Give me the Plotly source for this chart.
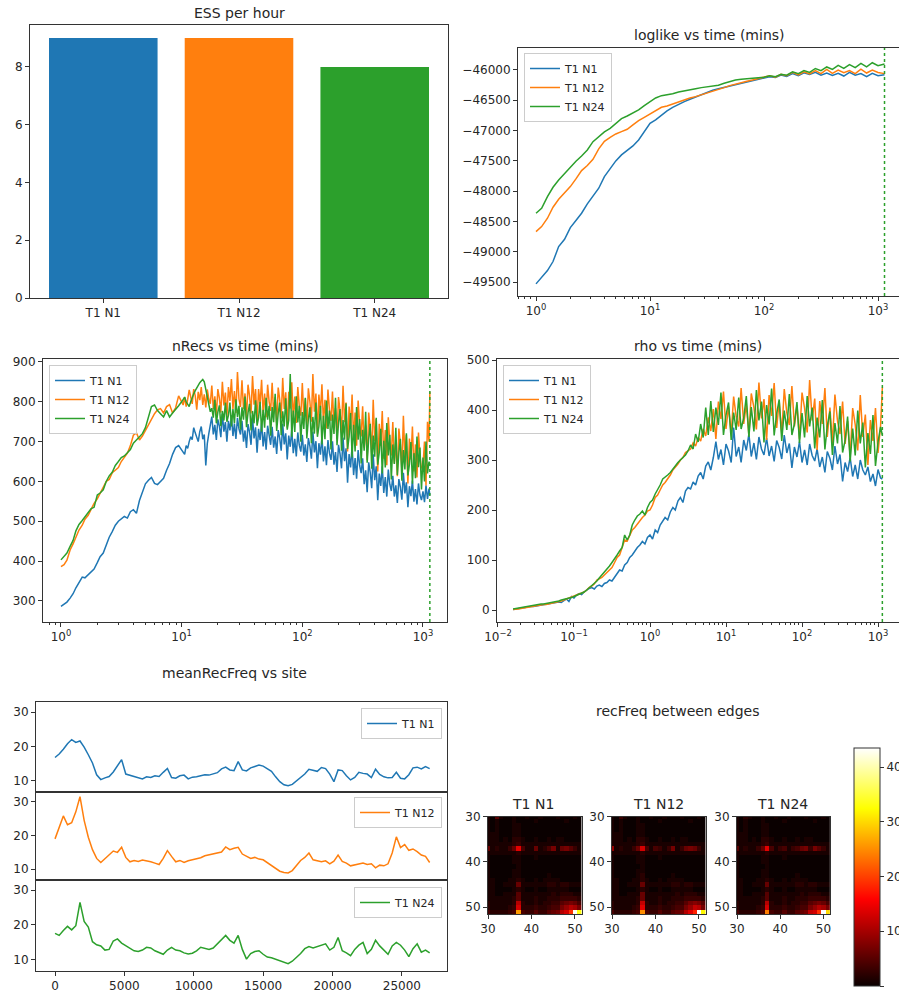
import plotly.graph_objects as go

# ---------------- data ----------------
LABELS = ["T1 N1", "T1 N12", "T1 N24"]
COLORS = ["#1f77b4", "#ff7f0e", "#2ca02c"]

ESS_PER_HOUR = [9, 9, 8]

END_TIME = 1140  # dotted marker (mins)

# loglike vs time
T_LL = [1.0, 1.12, 1.26, 1.41, 1.58, 1.78, 2.0, 2.24, 2.51, 2.82, 3.16, 3.55, 3.98, 4.47, 5.01, 5.62, 6.31, 7.08, 7.94, 8.91,
        10.0, 11.2, 12.6, 14.1, 15.8, 17.8, 20.0, 22.4, 25.1, 28.2, 31.6, 35.5, 39.8, 44.7, 50.1, 56.2, 63.1, 70.8, 79.4, 89.1,
        100, 112, 126, 141, 158, 178, 200, 224, 251, 282, 316, 355, 398, 447, 501, 562, 631, 708, 794, 891,
        1000, 1140]
LL_N1 = [-49531, -49421, -49311, -49162, -48915, -48794, -48601, -48486, -48365, -48211,
         -48079, -47952, -47760, -47622, -47501, -47402, -47325, -47254, -47155, -47017,
         -46880, -46825, -46742, -46676, -46616, -46566, -46522, -46484, -46445, -46412,
         -46374, -46335, -46308, -46286, -46253, -46231, -46220, -46192, -46176, -46154,
         -46132, -46110, -46125, -46085, -46105, -46060, -46095, -46045, -46075, -46040,
         -46085, -46050, -46090, -46055, -46100, -46040, -46085, -46060, -46110, -46055,
         -46095, -46080]
LL_N12 = [-48668, -48585, -48447, -48266, -48134, -48035, -47925, -47798, -47661, -47578,
          -47474, -47303, -47177, -47111, -47056, -47017, -46979, -46907, -46836, -46781,
          -46726, -46671, -46616, -46594, -46561, -46528, -46495, -46462, -46440, -46412,
          -46385, -46346, -46319, -46291, -46258, -46231, -46214, -46187, -46165, -46143,
          -46126, -46095, -46120, -46070, -46095, -46040, -46080, -46030, -46065, -46010,
          -46060, -45990, -46055, -46000, -46045, -46010, -46060, -45985, -46050, -46000,
          -46040, -46060]
LL_N24 = [-48365, -48283, -48090, -47936, -47815, -47705, -47595, -47507, -47419, -47320,
          -47183, -47100, -47023, -46963, -46891, -46803, -46759, -46704, -46660, -46589,
          -46523, -46462, -46424, -46413, -46391, -46363, -46341, -46319, -46308, -46291,
          -46281, -46264, -46253, -46220, -46187, -46165, -46154, -46148, -46143, -46132,
          -46121, -46095, -46110, -46070, -46085, -46030, -46060, -46010, -46040, -45975,
          -46010, -45950, -45990, -45925, -45975, -45910, -45960, -45890, -45950, -45880,
          -45930, -45900]

# nRecs vs time
T_NR = [1.0, 1.06, 1.12, 1.19, 1.26, 1.33, 1.41, 1.5, 1.58, 1.68, 1.78, 1.88, 2.0, 2.11, 2.24, 2.37, 2.51, 2.66, 2.82, 2.99,
        3.16, 3.35, 3.55, 3.76, 3.98, 4.22, 4.47, 4.73, 5.01, 5.31, 5.62, 5.96, 6.31, 6.68, 7.08, 7.5, 7.94, 8.41, 8.91, 9.44,
        10.0, 10.29, 10.59, 10.9, 11.22, 11.55, 11.89, 12.23, 12.59, 12.96,
        13.34, 13.72, 14.13, 14.54, 14.96, 15.4, 15.85, 16.31, 16.79, 17.28,
        17.78, 18.3, 18.84, 19.39, 19.95, 20.54, 21.13, 21.75, 22.39, 23.04,
        23.71, 24.41, 25.12, 25.85, 26.61, 27.38, 28.18, 29.01, 29.85, 30.73,
        31.62, 32.55, 33.5, 34.47, 35.48, 36.52, 37.58, 38.68, 39.81, 40.97,
        42.17, 43.4, 44.67, 45.97, 47.32, 48.7, 50.12, 51.58, 53.09, 54.64,
        56.23, 57.88, 59.57, 61.31, 63.1, 64.94, 66.83, 68.79, 70.79, 72.86,
        74.99, 77.18, 79.43, 81.75, 84.14, 86.6, 89.13, 91.73, 94.41, 97.16,
        100, 102.9, 105.9, 109, 112.2, 115.5, 118.9, 122.3, 125.9, 129.6,
        133.4, 137.2, 141.3, 145.4, 149.6, 154, 158.5, 163.1, 167.9, 172.8,
        177.8, 183, 188.4, 193.9, 199.5, 205.4, 211.3, 217.5, 223.9, 230.4,
        237.1, 244.1, 251.2, 258.5, 266.1, 273.8, 281.8, 290.1, 298.5, 307.3,
        316.2, 325.5, 335, 344.7, 354.8, 365.2, 375.8, 386.8, 398.1, 409.7,
        421.7, 434, 446.7, 459.7, 473.2, 487, 501.2, 515.8, 530.9, 546.4,
        562.3, 578.8, 595.7, 613.1, 631, 649.4, 668.3, 687.9, 707.9, 728.6,
        749.9, 771.8, 794.3, 817.5, 841.4, 866, 891.3, 917.3, 944.1, 971.6,
        1000, 1029, 1059, 1090, 1122, 1140]
NR_N1 = [286, 292, 297, 307, 318, 333, 348, 360, 358, 366,
         372, 380, 396, 411, 420, 442, 460, 474, 490, 500,
         507, 512, 508, 524, 529, 520, 552, 575, 594, 603,
         610, 595, 592, 600, 608, 628, 645, 668, 685, 690,
         680, 672, 668, 690, 683, 700, 712, 705, 735, 722,
         712, 700, 725, 738, 706, 718, 640, 695, 720, 742,
         763, 718, 742, 704, 756, 739, 711, 770, 725, 749,
         700, 752, 728, 766, 714, 745, 707, 760, 732, 718,
         752, 700, 728, 684, 744, 724, 692, 760, 708, 736,
         672, 732, 704, 748, 688, 724, 680, 740, 708, 692,
         737, 685, 713, 669, 729, 709, 677, 745, 693, 721,
         655, 715, 687, 731, 671, 707, 663, 723, 691, 675,
         717, 665, 693, 649, 709, 689, 657, 725, 673, 701,
         633, 696, 667, 713, 650, 688, 641, 704, 671, 654,
         701, 642, 674, 624, 692, 669, 633, 710, 651, 683,
         597, 669, 635, 688, 616, 659, 607, 679, 640, 621,
         658, 593, 628, 573, 648, 623, 583, 668, 603, 638,
         553, 620, 589, 638, 571, 611, 562, 630, 593, 576,
         614, 562, 590, 546, 606, 586, 554, 622, 570, 598,
         535, 588, 563, 602, 549, 581, 542, 595, 566, 553,
         575, 548, 590, 556, 582, 565]
NR_N12 = [386, 391, 402, 428, 443, 462, 478, 490, 505, 515,
          530, 545, 556, 571, 587, 600, 605, 622, 628, 635,
          650, 662, 671, 690, 716, 722, 704, 714, 728, 745,
          757, 770, 780, 783, 772, 788, 793, 772, 785, 815,
          800, 792, 812, 788, 806, 830, 812, 795, 832, 815,
          780, 825, 804, 837, 792, 819, 786, 831, 807, 795,
          841, 782, 814, 765, 832, 809, 773, 850, 791, 823,
          762, 837, 802, 857, 782, 827, 772, 875, 807, 787,
          854, 782, 821, 760, 843, 815, 771, 865, 793, 832,
          750, 832, 794, 855, 772, 821, 761, 843, 800, 777,
          848, 770, 812, 746, 836, 806, 758, 860, 782, 824,
          735, 825, 783, 849, 759, 813, 747, 837, 789, 765,
          847, 762, 808, 737, 834, 801, 750, 870, 775, 821,
          720, 818, 772, 844, 746, 805, 733, 831, 779, 752,
          826, 735, 784, 707, 812, 777, 721, 840, 749, 798,
          675, 788, 735, 818, 705, 773, 690, 803, 743, 713,
          789, 685, 741, 653, 773, 733, 669, 805, 701, 757,
          625, 745, 689, 777, 657, 729, 641, 761, 697, 665,
          749, 645, 701, 613, 733, 693, 629, 765, 661, 717,
          595, 708, 655, 738, 625, 693, 610, 723, 663, 633,
          640, 700, 590, 750, 700, 825]
NR_N24 = [403, 412, 420, 437, 452, 476, 492, 502, 512, 524,
          532, 535, 566, 571, 579, 600, 614, 623, 640, 650,
          660, 664, 671, 680, 696, 704, 712, 720, 735, 765,
          788, 792, 778, 770, 762, 778, 762, 772, 780, 790,
          800, 806, 812, 800, 792, 788, 800, 812, 820, 828,
          835, 840, 848, 852, 856, 850, 830, 815, 795, 775,
          784, 760, 805, 746, 774, 791, 739, 777, 753, 798,
          750, 766, 798, 738, 782, 746, 806, 762, 790, 730,
          786, 755, 813, 736, 772, 795, 728, 777, 746, 804,
          740, 760, 800, 725, 780, 735, 810, 755, 790, 715,
          787, 749, 820, 727, 771, 798, 716, 776, 738, 809,
          730, 754, 870, 712, 778, 724, 814, 748, 790, 700,
          774, 732, 810, 708, 756, 786, 696, 762, 720, 798,
          712, 738, 790, 693, 765, 706, 803, 732, 778, 680,
          768, 719, 810, 691, 747, 782, 677, 754, 705, 796,
          682, 712, 772, 660, 742, 675, 787, 705, 757, 645,
          730, 677, 775, 647, 707, 745, 632, 715, 662, 760,
          642, 672, 732, 620, 702, 635, 747, 665, 717, 605,
          693, 644, 735, 616, 672, 707, 602, 679, 630, 721,
          615, 643, 699, 594, 671, 608, 713, 636, 685, 580,
          660, 600, 700, 620, 650, 640]

# rho vs time
T_RHO = [0.0158, 0.0171, 0.0185, 0.02, 0.0215, 0.0233, 0.0251, 0.0271, 0.0293, 0.0316, 0.0342, 0.0369,
         0.0398, 0.043, 0.0464, 0.0501, 0.0541, 0.0584, 0.0631, 0.0681, 0.0736, 0.0794, 0.0858, 0.0926,
         0.1, 0.108, 0.117, 0.126, 0.136, 0.147, 0.158, 0.171, 0.185, 0.2, 0.215, 0.233, 0.251, 0.271, 0.293,
         0.316, 0.342, 0.369, 0.398, 0.43, 0.464, 0.501, 0.541, 0.584, 0.631, 0.681, 0.736, 0.794, 0.858, 0.926,
         1.0, 1.08, 1.17, 1.26, 1.36, 1.47, 1.58, 1.71, 1.85, 2.0, 2.15, 2.33, 2.51, 2.71, 2.93,
         3.16, 3.42, 3.69, 3.98, 4.3, 4.64, 5.01, 5.41, 5.84, 6.31, 6.81, 7.36, 7.94, 8.58, 9.26,
         10, 10.8, 11.7, 12.6, 13.6, 14.7, 15.8, 17.1, 18.5, 20, 21.5, 23.3, 25.1, 27.1, 29.3,
         31.6, 34.2, 36.9, 39.8, 43, 46.4, 50.1, 54.1, 58.4, 63.1, 68.1, 73.6, 79.4, 85.8, 92.6,
         100, 108, 117, 126, 136, 147, 158, 171, 185, 200, 215, 233, 251, 271, 293,
         316, 342, 369, 398, 430, 464, 501, 541, 584, 631, 681, 736, 794, 858, 926,
         1000, 1080, 1140]
RHO_N1 = [1, 2, 3, 4, 4, 5, 6, 7, 7, 8,
          9, 10, 11, 12, 13, 13, 14, 15, 16, 15,
          18, 22, 17, 27, 24, 30, 33, 31, 36, 40,
          43, 45, 42, 48, 50, 47, 53, 55, 60, 58,
          65, 72, 80, 78, 90, 95, 105, 110, 118, 125,
          130, 137, 132, 145, 150, 142, 160, 155, 170, 178,
          185, 180, 196, 205, 200, 218, 225, 215, 238, 245,
          242, 256, 250, 268, 275, 262, 288, 296, 280, 305,
          337, 301, 321, 290, 332, 318, 295, 365, 307, 326,
          295, 340, 319, 352, 307, 334, 301, 346, 322, 310,
          344, 308, 328, 297, 339, 325, 302, 350, 314, 333,
          284, 326, 306, 337, 295, 320, 290, 332, 309, 298,
          322, 286, 306, 275, 317, 303, 280, 328, 292, 311,
          257, 295, 277, 305, 267, 290, 262, 300, 280, 270,
          286, 257, 272, 248, 281, 264, 262]
RHO_N12 = [1, 1, 2, 3, 4, 5, 5, 6, 7, 8,
           9, 10, 11, 11, 12, 13, 14, 16, 17, 18,
           20, 22, 24, 26, 28, 30, 32, 34, 36, 40,
           45, 48, 52, 60, 62, 65, 70, 75, 80, 85,
           95, 105, 110, 125, 140, 138, 148, 160, 165, 172,
           180, 185, 190, 198, 200, 210, 225, 230, 240, 250,
           255, 262, 270, 280, 285, 292, 300, 305, 315, 318,
           322, 334, 328, 345, 338, 362, 348, 385, 358, 402,
           342, 417, 382, 437, 362, 407, 352, 427, 387, 367,
           444, 372, 411, 350, 433, 405, 361, 455, 383, 422,
           340, 430, 388, 454, 364, 418, 352, 442, 394, 370,
           448, 367, 410, 342, 435, 404, 355, 460, 379, 423,
           320, 418, 372, 444, 346, 405, 333, 431, 378, 352,
           417, 332, 378, 306, 404, 371, 319, 430, 346, 391,
           290, 380, 338, 404, 314, 368, 445]
RHO_N24 = [2, 3, 4, 5, 6, 7, 8, 9, 10, 10,
           11, 12, 12, 13, 13, 14, 15, 17, 18, 20,
           21, 22, 24, 25, 27, 29, 31, 33, 36, 40,
           44, 48, 53, 58, 64, 70, 75, 82, 88, 95,
           102, 110, 118, 125, 150, 140, 150, 170, 180, 188,
           192, 198, 190, 205, 215, 220, 232, 240, 250, 262,
           265, 270, 275, 282, 290, 295, 300, 305, 310, 318,
           330, 322, 352, 336, 372, 345, 405, 350, 418, 356,
           405, 370, 435, 350, 390, 415, 340, 395, 360, 425,
           362, 384, 428, 346, 406, 357, 440, 379, 417, 335,
           410, 371, 443, 349, 393, 421, 338, 399, 360, 432,
           350, 372, 416, 334, 394, 345, 428, 367, 405, 323,
           385, 345, 420, 321, 368, 397, 310, 374, 333, 408,
           315, 339, 387, 297, 363, 309, 399, 333, 375, 285,
           354, 312, 390, 288, 336, 366, 350]

# meanRecFreq vs site
SITES = [0, 300, 600, 900, 1200, 1500, 1800, 2100, 2400, 2700,
         3000, 3300, 3600, 3900, 4200, 4500, 4800, 5100, 5400, 5700,
         6000, 6300, 6600, 6900, 7200, 7500, 7800, 8100, 8400, 8700,
         9000, 9300, 9600, 9900, 10200, 10500, 10800, 11100, 11400, 11700,
         12000, 12300, 12600, 12900, 13200, 13500, 13800, 14100, 14400, 14700,
         15000, 15300, 15600, 15900, 16200, 16500, 16800, 17100, 17400, 17700,
         18000, 18300, 18600, 18900, 19200, 19500, 19800, 20100, 20400, 20700,
         21000, 21300, 21600, 21900, 22200, 22500, 22800, 23100, 23400, 23700,
         24000, 24300, 24600, 24900, 25200, 25500, 25800, 26100, 26400, 26700,
         27000]
MRF_N1 = [16.8, 17.8, 19.2, 20.8, 22.0, 21.2, 21.6, 19.8, 17.6, 15.2,
          11.8, 10.4, 10.9, 11.3, 12.6, 14.6, 16.2, 12.0, 11.6, 11.2,
          10.9, 10.6, 11.2, 11.0, 11.5, 11.3, 12.5, 13.6, 11.0, 10.8,
          11.5, 11.7, 10.6, 11.1, 11.2, 11.6, 11.8, 11.7, 12.0, 12.4,
          13.5, 14.0, 13.2, 13.0, 15.6, 13.2, 12.9, 13.8, 14.2, 14.6,
          14.3, 13.5, 12.8, 11.2, 9.8, 8.9, 8.6, 9.0, 10.0, 10.8,
          12.0, 13.4, 13.0, 12.8, 13.9, 13.6, 12.0, 9.8, 13.2, 13.0,
          11.5, 10.3, 11.0, 12.5, 12.2, 12.0, 11.0, 13.4, 11.9, 11.2,
          10.9, 11.0, 12.5, 10.8, 10.6, 11.8, 13.8, 14.0, 13.5, 14.2,
          13.6]
MRF_N12 = [19.0, 22.5, 25.8, 23.2, 23.8, 27.0, 31.5, 24.5, 19.5, 15.8,
           13.2, 12.0, 13.2, 14.3, 15.4, 15.0, 16.5, 13.5, 12.2, 12.6,
           12.3, 12.7, 12.5, 12.2, 11.8, 11.4, 13.2, 15.5, 13.8, 12.2,
           12.6, 12.0, 12.5, 12.8, 13.0, 13.4, 14.0, 14.3, 14.6, 15.0,
           15.1, 16.6, 15.8, 16.2, 16.5, 14.5, 13.8, 13.2, 13.5, 13.0,
           12.8, 12.0, 11.0, 10.2, 9.4, 9.0, 8.9, 9.6, 11.2, 12.6,
           13.5, 14.8, 12.8, 12.5, 12.2, 12.5, 11.6, 12.4, 14.2, 12.3,
           11.8, 11.0, 11.2, 11.6, 11.8, 11.4, 11.6, 10.4, 11.2, 11.0,
           11.6, 14.8, 19.6, 16.4, 17.3, 15.6, 16.0, 15.2, 14.2, 13.8,
           12.0]
MRF_N24 = [17.6, 17.0, 18.4, 19.6, 18.6, 19.8, 26.5, 21.0, 19.4, 15.2,
           14.3, 14.0, 12.8, 13.0, 15.4, 16.0, 14.8, 14.0, 13.2, 12.6,
           12.4, 12.8, 13.6, 13.4, 12.6, 12.2, 11.6, 12.8, 13.6, 12.8,
           12.6, 12.0, 11.7, 11.9, 12.6, 13.6, 13.4, 13.0, 13.4, 14.6,
           15.6, 17.0, 15.6, 14.8, 17.0, 13.0, 10.2, 11.8, 12.4, 12.6,
           11.6, 10.8, 10.6, 10.2, 9.6, 9.2, 8.9, 9.6, 10.6, 11.8,
           13.2, 13.8, 13.4, 13.8, 14.2, 14.6, 12.8, 13.6, 16.4, 12.6,
           12.0, 11.2, 13.0, 14.2, 15.0, 11.8, 13.0, 15.6, 14.0, 12.8,
           11.6, 14.0, 15.0, 14.2, 12.8, 10.9, 13.2, 14.6, 12.2, 12.8,
           12.0]

# recFreq between edges (edge index 30..51)
EDGES = [30, 31, 32, 33, 34, 35, 36, 37, 38, 39, 40, 41, 42, 43, 44, 45, 46, 47, 48, 49, 50, 51]
RF_N1 = [
    [1, 0, 5, 1, 0, 0, 1, 0, 0, 1, 0, 0, 1, 0, 0, 0, 1, 0, 0, 0, 1, 0],
    [1, 0, 1, 0, 0, 0, 1, 0, 0, 0, 0, 1, 0, 0, 0, 0, 0, 0, 1, 0, 0, 0],
    [1, 0, 1, 0, 0, 0, 1, 1, 0, 0, 0, 0, 0, 0, 0, 0, 0, 0, 0, 0, 0, 0],
    [1, 0, 1, 0, 0, 0, 1, 1, 0, 0, 0, 0, 0, 0, 0, 0, 0, 0, 0, 0, 0, 0],
    [1, 1, 1, 0, 0, 0, 1, 1, 0, 0, 0, 0, 0, 0, 0, 0, 0, 0, 0, 0, 0, 0],
    [1, 1, 1, 0, 1, 0, 2, 2, 1, 0, 0, 1, 0, 0, 1, 0, 1, 1, 0, 0, 0, 0],
    [1, 1, 1, 1, 1, 1, 2, 3, 1, 1, 1, 1, 1, 1, 1, 1, 1, 1, 1, 1, 1, 1],
    [6, 1, 2, 1, 1, 3, 6, 14, 4, 1, 1, 6, 1, 2, 4, 7, 1, 6, 7, 5, 3, 1],
    [1, 1, 1, 1, 1, 1, 1, 2, 1, 1, 1, 1, 1, 1, 1, 1, 1, 1, 1, 1, 1, 1],
    [1, 0, 0, 0, 0, 0, 1, 1, 0, 0, 0, 1, 0, 0, 0, 0, 0, 0, 0, 0, 0, 0],
    [1, 0, 0, 0, 0, 0, 1, 1, 0, 0, 0, 0, 0, 0, 0, 0, 0, 0, 0, 0, 0, 0],
    [1, 0, 0, 0, 0, 0, 0, 1, 0, 0, 0, 0, 0, 0, 0, 0, 0, 0, 0, 0, 0, 0],
    [1, 0, 0, 0, 0, 0, 1, 1, 0, 0, 0, 0, 0, 0, 0, 0, 0, 0, 0, 0, 0, 0],
    [1, 0, 0, 0, 0, 0, 1, 1, 0, 0, 0, 0, 0, 0, 1, 0, 0, 0, 0, 0, 0, 0],
    [1, 1, 0, 0, 0, 1, 1, 2, 1, 0, 0, 1, 0, 1, 1, 1, 1, 0, 0, 0, 0, 0],
    [1, 1, 0, 0, 1, 1, 1, 6, 1, 1, 1, 1, 1, 1, 2, 2, 1, 2, 2, 1, 1, 1],
    [1, 1, 0, 0, 0, 0, 1, 2, 1, 0, 0, 1, 0, 0, 1, 1, 1, 1, 1, 0, 0, 0],
    [1, 1, 0, 0, 1, 1, 1, 5, 1, 1, 1, 1, 1, 1, 1, 2, 1, 2, 2, 2, 1, 1],
    [1, 1, 1, 1, 1, 1, 2, 5, 1, 1, 1, 2, 1, 1, 2, 2, 2, 3, 3, 3, 3, 2],
    [2, 1, 1, 1, 1, 1, 2, 11, 2, 1, 1, 2, 1, 2, 2, 3, 3, 5, 6, 7, 6, 4],
    [2, 1, 1, 1, 1, 2, 3, 13, 2, 2, 2, 3, 2, 2, 3, 4, 4, 7, 9, 11, 10, 7],
    [4, 2, 2, 2, 2, 3, 4, 26, 4, 3, 3, 5, 3, 3, 5, 6, 7, 11, 13, 19, 43, 33],
]
RF_N12 = [
    [1, 0, 3, 1, 0, 0, 1, 0, 0, 1, 0, 0, 1, 0, 0, 0, 1, 0, 0, 0, 1, 0],
    [1, 0, 1, 0, 0, 0, 1, 0, 0, 0, 0, 1, 0, 0, 0, 0, 0, 0, 1, 0, 0, 0],
    [1, 0, 1, 0, 0, 0, 1, 1, 0, 0, 0, 0, 0, 0, 0, 0, 0, 0, 0, 0, 0, 0],
    [1, 0, 1, 0, 0, 0, 1, 1, 0, 0, 0, 0, 0, 0, 0, 0, 0, 0, 0, 0, 0, 0],
    [1, 1, 1, 0, 0, 0, 1, 1, 0, 0, 0, 0, 0, 0, 0, 0, 0, 0, 0, 0, 0, 0],
    [1, 1, 1, 0, 1, 0, 2, 2, 1, 0, 0, 1, 0, 0, 1, 0, 1, 1, 0, 0, 0, 0],
    [1, 1, 1, 1, 1, 1, 2, 3, 1, 1, 1, 1, 1, 1, 1, 1, 1, 1, 1, 1, 1, 1],
    [9, 1, 2, 1, 1, 3, 6, 13, 4, 1, 4, 3, 1, 3, 7, 1, 3, 6, 7, 6, 3, 1],
    [1, 1, 1, 1, 1, 1, 1, 2, 1, 1, 1, 1, 1, 1, 1, 1, 1, 1, 1, 1, 1, 1],
    [1, 0, 0, 0, 0, 0, 1, 1, 0, 0, 0, 1, 0, 0, 0, 0, 0, 0, 0, 0, 0, 0],
    [1, 0, 0, 0, 0, 0, 1, 1, 0, 0, 0, 0, 0, 0, 0, 0, 0, 0, 0, 0, 0, 0],
    [1, 0, 0, 0, 0, 0, 0, 1, 0, 0, 0, 0, 0, 0, 0, 0, 0, 0, 0, 0, 0, 0],
    [1, 0, 0, 0, 0, 0, 1, 1, 0, 0, 0, 0, 0, 0, 0, 0, 0, 0, 0, 0, 0, 0],
    [1, 0, 0, 0, 0, 0, 1, 2, 0, 0, 0, 0, 0, 0, 1, 0, 0, 0, 0, 0, 0, 0],
    [1, 1, 0, 0, 0, 1, 1, 2, 1, 0, 0, 1, 0, 1, 1, 1, 1, 0, 0, 0, 0, 0],
    [1, 1, 0, 0, 1, 1, 1, 6, 1, 1, 1, 1, 1, 1, 2, 2, 1, 2, 2, 1, 1, 1],
    [1, 1, 0, 0, 0, 0, 1, 2, 1, 0, 0, 1, 0, 0, 1, 1, 1, 1, 1, 0, 0, 0],
    [1, 1, 0, 0, 1, 1, 1, 6, 1, 1, 1, 1, 1, 1, 1, 2, 1, 2, 2, 2, 1, 1],
    [1, 1, 1, 1, 1, 1, 2, 6, 1, 1, 1, 2, 1, 1, 2, 2, 2, 3, 3, 3, 3, 2],
    [2, 1, 1, 1, 1, 1, 2, 12, 2, 1, 1, 2, 1, 2, 2, 3, 3, 5, 7, 8, 7, 5],
    [2, 1, 1, 1, 1, 2, 3, 14, 2, 2, 2, 3, 2, 2, 3, 4, 4, 7, 9, 12, 11, 7],
    [4, 2, 2, 2, 2, 3, 4, 25, 4, 3, 3, 5, 3, 3, 5, 6, 7, 11, 14, 18, 45, 32],
]
RF_N24 = [
    [1, 0, 2, 1, 0, 0, 1, 0, 0, 1, 0, 0, 1, 0, 0, 0, 1, 0, 0, 0, 1, 0],
    [1, 0, 1, 0, 0, 0, 1, 0, 0, 0, 0, 1, 0, 0, 0, 0, 0, 0, 1, 0, 0, 0],
    [1, 0, 1, 0, 0, 0, 1, 1, 0, 0, 0, 0, 0, 0, 0, 0, 0, 0, 0, 0, 0, 0],
    [1, 0, 1, 0, 0, 0, 1, 1, 0, 0, 0, 0, 0, 0, 0, 0, 0, 0, 0, 0, 0, 0],
    [1, 1, 1, 0, 0, 0, 1, 1, 0, 0, 0, 0, 0, 0, 0, 0, 0, 0, 0, 0, 0, 0],
    [1, 1, 1, 0, 1, 0, 2, 2, 1, 0, 0, 1, 0, 0, 1, 0, 1, 1, 0, 0, 0, 0],
    [1, 1, 1, 1, 1, 1, 2, 3, 1, 1, 1, 1, 1, 1, 1, 1, 1, 1, 1, 1, 1, 1],
    [5, 1, 2, 1, 1, 3, 6, 14, 4, 1, 3, 4, 1, 3, 4, 6, 7, 3, 7, 5, 3, 1],
    [1, 1, 1, 1, 1, 1, 1, 2, 1, 1, 1, 1, 1, 1, 1, 1, 1, 1, 1, 1, 1, 1],
    [1, 0, 0, 0, 0, 0, 1, 1, 0, 0, 0, 1, 0, 0, 0, 0, 0, 0, 0, 0, 0, 0],
    [1, 0, 0, 0, 0, 0, 1, 1, 0, 0, 0, 0, 0, 0, 0, 0, 0, 0, 0, 0, 0, 0],
    [1, 0, 0, 0, 0, 0, 0, 1, 0, 0, 0, 0, 0, 0, 0, 0, 0, 0, 0, 0, 0, 0],
    [1, 0, 0, 0, 0, 0, 1, 1, 0, 0, 0, 0, 0, 0, 0, 0, 0, 0, 0, 0, 0, 0],
    [1, 0, 0, 0, 0, 0, 1, 1, 0, 0, 0, 0, 0, 0, 1, 0, 0, 0, 0, 0, 0, 0],
    [1, 1, 0, 0, 0, 1, 1, 2, 1, 0, 0, 1, 0, 1, 1, 1, 1, 0, 0, 0, 0, 0],
    [1, 1, 0, 0, 1, 1, 1, 6, 1, 1, 1, 1, 1, 1, 2, 2, 1, 2, 2, 1, 1, 1],
    [1, 1, 0, 0, 0, 0, 1, 2, 1, 0, 0, 1, 0, 0, 1, 1, 1, 1, 1, 0, 0, 0],
    [1, 1, 0, 0, 1, 1, 1, 5, 1, 1, 1, 1, 1, 1, 1, 2, 1, 2, 2, 2, 1, 1],
    [1, 1, 1, 1, 1, 1, 2, 5, 1, 1, 1, 2, 1, 1, 2, 2, 2, 3, 3, 3, 3, 2],
    [2, 1, 1, 1, 1, 1, 2, 11, 2, 1, 1, 2, 1, 2, 2, 3, 3, 5, 6, 7, 6, 4],
    [2, 1, 1, 1, 1, 2, 3, 13, 2, 2, 2, 3, 2, 2, 3, 4, 4, 7, 9, 11, 10, 7],
    [4, 2, 2, 2, 2, 3, 4, 24, 4, 3, 3, 5, 3, 3, 5, 6, 7, 12, 13, 19, 44, 30],
]
RF_MAX = 43.5

assert len(T_LL) == len(LL_N1) == len(LL_N12) == len(LL_N24)
assert len(T_NR) == len(NR_N1) == len(NR_N12) == len(NR_N24), (len(T_NR), len(NR_N1), len(NR_N12), len(NR_N24))
assert len(T_RHO) == len(RHO_N1) == len(RHO_N12) == len(RHO_N24)
assert len(SITES) == len(MRF_N1) == len(MRF_N12) == len(MRF_N24)

# ---------------- layout helpers ----------------
W, H = 899, 992
FONT = "DejaVu Sans"
INK = "#262626"


def xdom(a, b):
    return [max(0.0, a / W), min(1.0, b / W)]


def ydom(top, bottom):
    return [max(0.0, 1 - bottom / H), min(1.0, 1 - top / H)]


def axis(**kw):
    base = dict(showline=True, linecolor="#333333", linewidth=1, mirror=True,
                ticks="outside", ticklen=4, tickwidth=1, tickcolor="#333333",
                tickfont=dict(family=FONT, size=12, color=INK),
                showgrid=False, zeroline=False, fixedrange=True, automargin=False)
    base.update(kw)
    return base


def log_ticks(lo, hi):
    vals = [10 ** k for k in range(lo, hi + 1)]
    txt = ["10<sup>%s</sup>" % (str(k) if k >= 0 else "\u2212" + str(-k)) for k in range(lo, hi + 1)]
    minor = [m * 10 ** k for k in range(lo - 1, hi + 1) for m in range(2, 10)]
    return vals, txt, minor


fig = go.Figure()

# ESS bar chart
fig.add_trace(go.Bar(x=LABELS, y=ESS_PER_HOUR, marker=dict(color=COLORS, line=dict(width=0)),
                     width=0.8, showlegend=False, xaxis="x", yaxis="y"))

# loglike
for lab, col, ys in zip(LABELS, COLORS, [LL_N1, LL_N12, LL_N24]):
    fig.add_trace(go.Scatter(x=T_LL, y=ys, mode="lines", name=lab, line=dict(color=col, width=1.5),
                             legend="legend", xaxis="x2", yaxis="y2"))
# nRecs
for lab, col, ys in zip(LABELS, COLORS, [NR_N1, NR_N12, NR_N24]):
    fig.add_trace(go.Scatter(x=T_NR, y=ys, mode="lines", name=lab, line=dict(color=col, width=1.5),
                             legend="legend2", xaxis="x3", yaxis="y3"))
# rho
for lab, col, ys in zip(LABELS, COLORS, [RHO_N1, RHO_N12, RHO_N24]):
    fig.add_trace(go.Scatter(x=T_RHO, y=ys, mode="lines", name=lab, line=dict(color=col, width=1.5),
                             legend="legend3", xaxis="x4", yaxis="y4"))
# meanRecFreq
for i, (lab, col, ys) in enumerate(zip(LABELS, COLORS, [MRF_N1, MRF_N12, MRF_N24])):
    fig.add_trace(go.Scatter(x=SITES, y=ys, mode="lines", name=lab, line=dict(color=col, width=1.5),
                             legend="legend%d" % (4 + i), xaxis="x%d" % (5 + i), yaxis="y%d" % (5 + i)))
# heatmaps
for i, z in enumerate([RF_N1, RF_N12, RF_N24]):
    fig.add_trace(go.Heatmap(z=z, x=EDGES, y=EDGES, coloraxis="coloraxis",
                             xaxis="x%d" % (8 + i), yaxis="y%d" % (8 + i)))

lv1, lt1, lm1 = log_ticks(0, 3)
lv2, lt2, lm2 = log_ticks(-2, 3)
MINOR_STYLE = dict(ticks="outside", ticklen=2, tickwidth=1, tickcolor="#333333", showgrid=False)

layout = dict(
    width=W, height=H, autosize=False,
    margin=dict(l=0, r=0, t=0, b=0, pad=0, autoexpand=False),
    paper_bgcolor="white", plot_bgcolor="white",
    font=dict(family=FONT, size=12, color=INK),
    xaxis=axis(domain=xdom(30, 448), type="category", range=[-0.54, 2.54], anchor="y"),
    yaxis=axis(domain=ydom(25, 298), range=[0, 9.45], tickvals=[0, 2, 4, 6, 8], anchor="x"),
    xaxis2=axis(domain=xdom(518, 899), type="log", range=[-0.158, 3.184], tickvals=lv1, ticktext=lt1,
                minor=dict(MINOR_STYLE, tickmode="array", tickvals=lm1), anchor="y2"),
    yaxis2=axis(domain=ydom(48, 296), range=[-49731, -45637], tickmode="linear", tick0=-46000, dtick=500,
                tickformat="d", anchor="x2", mirror=False),
    xaxis3=axis(domain=xdom(43, 447), type="log", range=[-0.149, 3.199], tickvals=lv1, ticktext=lt1,
                minor=dict(MINOR_STYLE, tickmode="array", tickvals=lm1), anchor="y3"),
    yaxis3=axis(domain=ydom(359, 622), range=[247, 907.5], tickmode="linear", tick0=0, dtick=100, anchor="x3"),
    xaxis4=axis(domain=xdom(497, 899), type="log", range=[-2.013, 3.276], tickvals=lv2, ticktext=lt2,
                minor=dict(MINOR_STYLE, tickmode="array", tickvals=lm2), anchor="y4"),
    yaxis4=axis(domain=ydom(359, 622), range=[-24, 502], tickmode="linear", tick0=0, dtick=100,
                anchor="x4", mirror=False),
    coloraxis=dict(
        cmin=0, cmax=RF_MAX,
        colorscale=[[0.0, "rgb(10,0,0)"], [0.365, "rgb(255,0,0)"], [0.746, "rgb(255,255,0)"],
                    [1.0, "rgb(255,255,255)"]],
        colorbar=dict(x=854 / W, xanchor="left", y=1 - 986 / H, yanchor="bottom",
                      len=(986 - 748) / H, lenmode="fraction", thickness=26, thicknessmode="pixels",
                      xpad=0, ypad=0, outlinecolor="#333333", outlinewidth=1,
                      ticks="outside", ticklen=4, tickcolor="#333333", tickvals=[0, 10, 20, 30, 40],
                      tickfont=dict(family=FONT, size=12, color=INK)),
    ),
)

# meanRecFreq panels
mrf_rows = [(702, 792), (792, 880), (880, 971)]
for i, (top, bot) in enumerate(mrf_rows):
    n = 5 + i
    last = (i == 2)
    layout["xaxis%d" % n] = axis(domain=xdom(36, 447), range=[-1370, 28250], tickmode="linear", tick0=0,
                                 dtick=5000, tickformat="d", showticklabels=last,
                                 ticks="outside" if last else "", anchor="y%d" % n)
    layout["yaxis%d" % n] = axis(domain=ydom(top, bot), range=[6.8, 32.9], tickvals=[10, 20, 30],
                                 anchor="x%d" % n)

# heatmap panels
hm_cols = [(488, 581.5), (612, 705.5), (737, 830)]
for i, (a, b) in enumerate(hm_cols):
    n = 8 + i
    layout["xaxis%d" % n] = axis(domain=xdom(a, b), range=[30, 51.5], tickvals=[30, 40, 50], anchor="y%d" % n)
    layout["yaxis%d" % n] = axis(domain=ydom(816.5, 914), range=[51.5, 30], tickvals=[30, 40, 50],
                                 anchor="x%d" % n)

# legends
LEG = dict(bgcolor="rgba(255,255,255,0.85)", bordercolor="#cccccc", borderwidth=1,
           font=dict(family=FONT, size=11, color=INK), itemwidth=30, tracegroupgap=0,
           xanchor="left", yanchor="top")
layout["legend"] = dict(LEG, x=524 / W, y=1 - 53 / H)
layout["legend2"] = dict(LEG, x=49 / W, y=1 - 365 / H)
layout["legend3"] = dict(LEG, x=503 / W, y=1 - 365 / H)
layout["legend4"] = dict(LEG, x=442 / W, y=1 - 708 / H, xanchor="right")
layout["legend5"] = dict(LEG, x=442 / W, y=1 - 797 / H, xanchor="right")
layout["legend6"] = dict(LEG, x=442 / W, y=1 - 887 / H, xanchor="right")

# titles
titles = [("ESS per hour", 239, 13, 14), ("loglike vs time (mins)", 709, 35, 14),
          ("nRecs vs time (mins)", 245, 346, 14), ("rho vs time (mins)", 698, 346, 14),
          ("meanRecFreq vs site", 235, 673, 14), ("recFreq between edges", 677, 711, 14),
          ("T1 N1", 533, 804, 14), ("T1 N12", 658, 804, 14), ("T1 N24", 782, 804, 14)]
ann = []
for text, cx, cy, fs in titles:
    ann.append(dict(text=text, x=cx / W, y=1 - cy / H, xref="paper", yref="paper", showarrow=False,
                    xanchor="center", yanchor="middle", font=dict(family=FONT, size=fs, color=INK)))
layout["annotations"] = ann

# dotted end-time markers
shapes = []
for xr, yr in [("x2", "y2"), ("x3", "y3"), ("x4", "y4")]:
    shapes.append(dict(type="line", xref=xr, yref=yr + " domain", x0=END_TIME, x1=END_TIME, y0=0, y1=1,
                       line=dict(color="#2ca02c", width=1.5, dash="dot")))
layout["shapes"] = shapes

fig.update_layout(**layout)
fig.write_html(
    "out.html",
    config={"responsive": False, "displayModeBar": False},
    post_script="document.body.style.margin='0px';document.body.style.overflow='hidden';"
                "document.documentElement.style.overflow='hidden';",
)
